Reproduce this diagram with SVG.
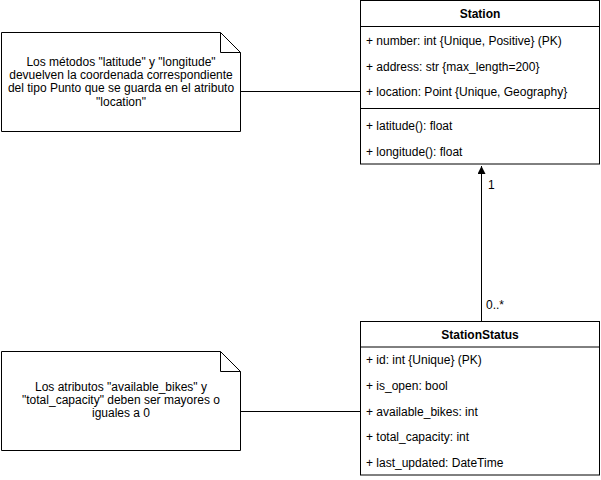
<svg xmlns="http://www.w3.org/2000/svg" width="601" height="480" viewBox="0 0 601 480">
<style>
.box{fill:#fff;stroke:#000;stroke-width:1}
.ln{stroke:#000;stroke-width:1;fill:none}
text{font-family:"Liberation Sans",Arial,sans-serif;font-size:12px;fill:#000}
.t{font-weight:bold;text-anchor:middle}
.c{text-anchor:middle}
</style>
<defs>
<marker id="arr" markerWidth="10" markerHeight="10" refX="8" refY="4" orient="auto" markerUnits="userSpaceOnUse">
<path d="M0,0 L8,4 L0,8 Z" fill="#000"/>
</marker>
</defs>
<rect width="601" height="480" fill="#fff"/>
<g id="connectors">
<line class="ln" x1="240.5" y1="91.5" x2="360.5" y2="91.5"/>
<line class="ln" x1="240.5" y1="411.5" x2="360.5" y2="411.5"/>
<line class="ln" x1="481.5" y1="322" x2="481.5" y2="166" marker-end="url(#arr)"/>
<text x="488" y="189">1</text>
<text x="486" y="309">0..*</text>
</g>
<g id="station">
<rect class="box" x="360.5" y="0.5" width="239" height="163.5"/>
<line class="ln" x1="360.5" y1="26.5" x2="599.5" y2="26.5"/>
<line class="ln" x1="360.5" y1="108.5" x2="599.5" y2="108.5"/>
<text class="t" x="480" y="18">Station</text>
<text x="366" y="45">+ number: int {Unique, Positive} (PK)</text>
<text x="366" y="71">+ address: str {max_length=200}</text>
<text x="366" y="96">+ location: Point {Unique, Geography}</text>
<text x="366" y="130">+ latitude(): float</text>
<text x="366" y="156">+ longitude(): float</text>
</g>
<g id="stationstatus">
<rect class="box" x="360.5" y="321.5" width="239" height="153.5"/>
<line class="ln" x1="360.5" y1="347" x2="599.5" y2="347"/>
<text class="t" x="480" y="339">StationStatus</text>
<text x="366" y="364">+ id: int {Unique} (PK)</text>
<text x="366" y="390">+ is_open: bool</text>
<text x="366" y="416">+ available_bikes: int</text>
<text x="366" y="441">+ total_capacity: int</text>
<text x="366" y="467">+ last_updated: DateTime</text>
</g>
<g id="note1">
<path class="box" d="M1.5,32.5 H220.5 L240.5,52.5 V131.5 H1.5 Z"/>
<path class="ln" d="M220.5,32.5 V52.5 H240.5"/>
<text class="c" x="121" y="66">Los métodos "latitude" y "longitude"</text>
<text class="c" x="121" y="79">devuelven la coordenada correspondiente</text>
<text class="c" x="121" y="92">del tipo Punto que se guarda en el atributo</text>
<text class="c" x="121" y="106">"location"</text>
</g>
<g id="note2">
<path class="box" d="M1.5,351.5 H220.5 L240.5,371.5 V450.5 H1.5 Z"/>
<path class="ln" d="M220.5,351.5 V371.5 H240.5"/>
<text class="c" x="121" y="391">Los atributos "available_bikes" y</text>
<text class="c" x="121" y="404">"total_capacity" deben ser mayores o</text>
<text class="c" x="121" y="417">iguales a 0</text>
</g>
</svg>
